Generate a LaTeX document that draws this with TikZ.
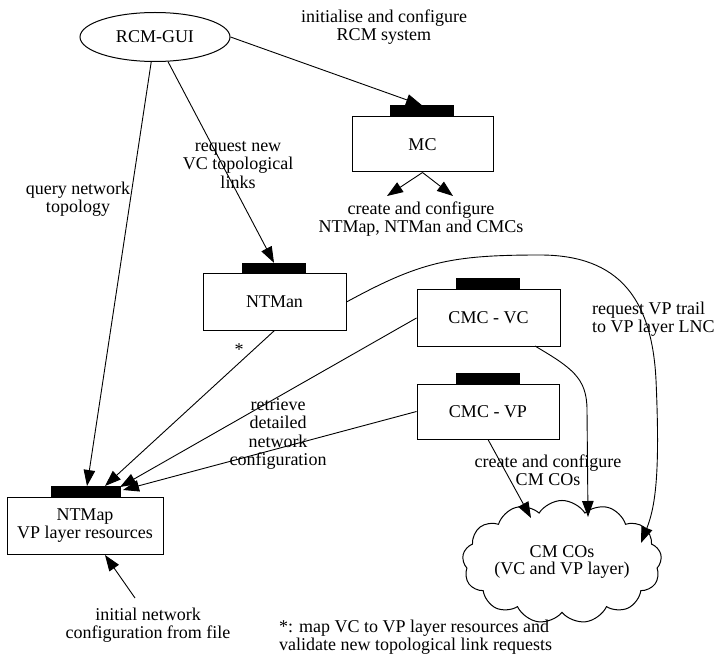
\documentclass[tikz,border=0pt]{standalone}
\usepackage{fontspec}
\setmainfont{Liberation Serif}
\usetikzlibrary{arrows.meta,shapes.geometric,shapes.symbols,calc}
\begin{document}
\begin{tikzpicture}[x=1pt,y=-1pt,
  every node/.style={font=\fontsize{18}{18.5}\selectfont},
  box/.style={draw,line width=1pt,rectangle,inner sep=0pt},
  bar/.style={fill=black,draw=none,rectangle,inner sep=0pt,minimum width=64pt,minimum height=11pt},
  lab/.style={align=center,inner sep=0pt},
  conn/.style={line width=0.9pt},
  arr/.style={conn,-{Triangle[length=16pt,width=11.5pt]}}]
\useasboundingbox (0,0) rectangle (718,655);
% nodes
\node[draw,line width=1pt,ellipse,minimum width=150pt,minimum height=49pt,inner sep=0pt] (gui) at (155,37) {RCM-GUI};
\node[box,minimum width=141pt,minimum height=55pt] (mc) at (422.5,144.5) {MC};
\node[bar] (mcbar) at (422,111) {};
\node[box,minimum width=143pt,minimum height=56pt] (ntman) at (274.5,302) {NTMan};
\node[bar] (ntmanbar) at (274,268.5) {};
\node[box,minimum width=143pt,minimum height=56pt] (cmcvc) at (488.5,318) {CMC - VC};
\node[bar] (cmcvcbar) at (488,284) {};
\node[box,minimum width=142pt,minimum height=55pt] (cmcvp) at (488,411.5) {CMC - VP};
\node[bar] (cmcvpbar) at (488,378) {};
\node[box,minimum width=156pt,minimum height=57pt,align=center] (ntmap) at (85,525.5) {NTMap\\[-1pt]VP layer resources};
\node[bar,minimum width=70pt] (ntmapbar) at (86,491.5) {};
\node[cloud,draw,line width=1pt,cloud puffs=13,cloud puff arc=115,aspect=1.9,minimum width=180pt,minimum height=95pt,inner sep=0pt,align=center] (cloud) at (562,562) {CM COs\\[-1pt](VC and VP layer)};
% coordinates
\coordinate (mcl) at (387,196);
\coordinate (mcr) at (453,196);
\coordinate (tq) at (87,486);
\coordinate (tn) at (105,486);
\coordinate (tv) at (120,487);
\coordinate (tp) at (123,490);
\coordinate (init) at (135,598);
\coordinate (nb) at (105,555);
\coordinate (c1) at (531,518);
\coordinate (c2) at (588,517);
\coordinate (c3) at (641,543);
% connectors
\draw[arr] (gui.east) -- (mcbar.north);
\draw[arr] (mc.south) -- (mcl);
\draw[arr] (mc.south) -- (mcr);
\draw[arr] (gui) -- (ntmanbar.north);
\draw[arr] (gui) -- (tq);
\draw[arr] (ntman.south) -- (tn);
\draw[arr] (cmcvc.west) -- (tv);
\draw[arr] (cmcvp.west) -- (tp);
\draw[arr] (init) -- (nb);
\draw[arr] (cmcvp.south) -- (c1);
\draw[arr] (535,346) .. controls (572,368) and (587,378) .. (587,410) -- (c2);
\draw[arr] (ntman.east) .. controls (420,262) and (450,255) .. (540,255) .. controls (620,255) and (652,300) .. (656,380) .. controls (660,470) and (656,505) .. (c3);
% labels
\node[lab] (l1) at (384,27) {initialise and configure\\RCM system};
\node[lab] (l2) at (421,219) {create and configure\\NTMap, NTMan and CMCs};
\node[lab] (l3) at (238,165) {request new\\VC topological\\links};
\node[lab] (l4) at (78,199) {query network\\topology};
\node[lab] (l5) at (239,350) {*};
\node[lab] (l6) at (278,434) {retrieve\\detailed\\network\\configuration};
\node[lab] (l7) at (548,470) {create and configure\\CM COs};
\node[lab,align=left,anchor=west] (l8) at (592,319) {request VP trail\\to VP layer LNC};
\node[lab] (l9) at (148,625) {initial network\\configuration from file};
\node[lab,align=left,anchor=west] (l10) at (279,637) {*: map VC to VP layer resources and\\validate new topological link requests};
\end{tikzpicture}
\end{document}
